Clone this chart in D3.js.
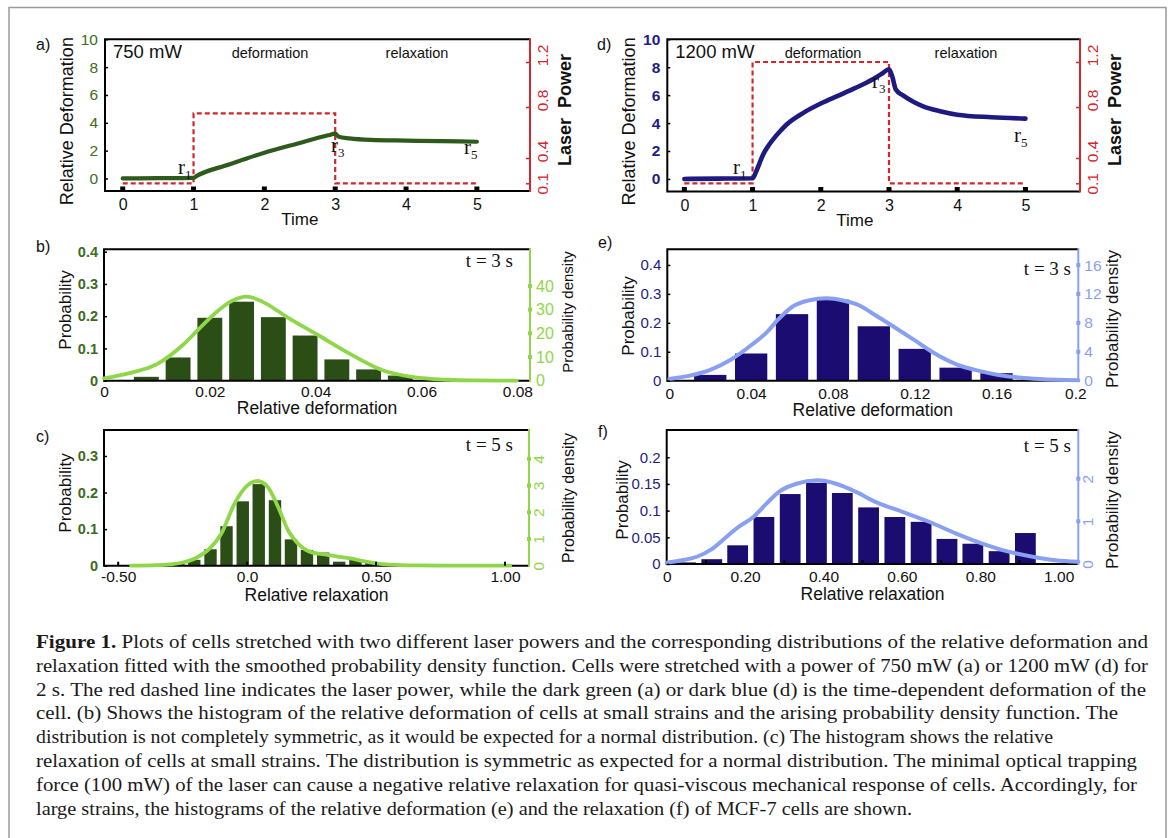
<!DOCTYPE html>
<html><head><meta charset="utf-8">
<script src="https://cdn.jsdelivr.net/npm/d3@7"></script>
<style>
body{margin:0;background:#fff;}
svg{display:block;}
text{font-family:"Liberation Sans",Arial,Helvetica,sans-serif;}
</style></head><body>
<svg id="fig" width="1171" height="838"></svg>
<script>
// ---------------- DATA ----------------
const timeTicks = [0,1,2,3,4,5];
const deformTicks = [0,2,4,6,8,10];
const powerTicks = [0.1,0.4,0.8,1.2];
const laserTime = [0,1,1,3,3,5];
const laserPowerA = [0.1,0.1,0.75,0.75,0.1,0.1];
const laserPowerD = [0.1,0.1,1.2,1.2,0.1,0.1];
const defTimeA = [0,0.5,1,1.05,1.5,2,2.5,2.9,3,3.05,3.2,3.5,4,4.5,5];
const defValA  = [0,0.02,0.05,0.2,1,1.85,2.55,3.1,3.22,3.0,2.88,2.77,2.72,2.68,2.64];
const defTimeD = [0,0.5,1,1.05,1.1,1.15,1.25,1.4,1.5,1.75,2,2.25,2.5,2.75,2.9,3,3.05,3.1,3.2,3.35,3.5,3.75,4,4.5,5];
const defValD  = [0,0.02,0.05,0.5,1.1,1.7,2.5,3.4,3.9,4.75,5.4,5.95,6.5,7.1,7.55,7.85,7.3,6.4,6.0,5.55,5.2,4.85,4.6,4.42,4.32];

// (b) small strains, t = 3 s
const binCentersB = [0.008,0.014,0.020,0.026,0.032,0.038,0.044,0.050,0.056];
const probB = [0.012,0.072,0.195,0.245,0.197,0.14,0.066,0.035,0.016];
const pdfXB = [0,0.005,0.01,0.015,0.018,0.021,0.024,0.027,0.03,0.0345,0.0405,0.0465,0.0525,0.0585,0.065,0.07,0.078];
const pdfYB = [1,3.3,7,15.3,22,28.5,33.5,35.5,33.3,27,19.2,11.3,4.5,1.5,0.4,0.1,0];
const xTicksB = [0,0.02,0.04,0.06,0.08];
const xLabelsB = ["0","0.02","0.04","0.06","0.08"];
const yTicksB = [0,0.1,0.2,0.3,0.4];
const yLabelsB = ["0","0.1","0.2","0.3","0.4"];
const y2TicksB = [0,10,20,30,40];

// (c) small strains, t = 5 s
const binCentersC = [-0.267,-0.205,-0.142,-0.08,-0.017,0.045,0.108,0.17,0.232,0.295,0.357,0.42,0.482,0.545];
const probC = [0.005,0.016,0.045,0.108,0.176,0.223,0.179,0.072,0.043,0.036,0.011,0.016,0.008,0.003];
const pdfXC = [-0.45,-0.35,-0.3,-0.25,-0.2,-0.15,-0.1,-0.05,0,0.04,0.08,0.12,0.16,0.2,0.25,0.3,0.35,0.4,0.45,0.5,0.55,0.65,0.8,1.02];
const pdfYC = [0,0.02,0.05,0.12,0.28,0.6,1.2,2.3,3.0,3.17,2.95,2.2,1.3,0.8,0.5,0.42,0.34,0.27,0.17,0.09,0.04,0.01,0,0];
const xTicksC = [-0.5,0,0.5,1.0];
const xLabelsC = ["-0.50","0.0","0.50","1.00"];
const yTicksC = [0,0.1,0.2,0.3];
const yLabelsC = ["0","0.1","0.2","0.3"];
const y2TicksC = [0,1,2,3,4];

// (e) large strains, t = 3 s
const binCentersE = [0.02,0.04,0.06,0.08,0.10,0.12,0.14,0.16,0.18];
const probE = [0.02,0.094,0.23,0.28,0.188,0.11,0.045,0.026,0.006];
const pdfXE = [0,0.01,0.02,0.03,0.04,0.048,0.053,0.06,0.068,0.077,0.085,0.093,0.1,0.109,0.121,0.129,0.141,0.151,0.161,0.171,0.181,0.2];
const pdfYE = [0.25,0.7,1.5,2.9,4.9,6.8,8.4,10.2,11.1,11.4,11.1,10.4,9.2,7.6,5.4,3.9,2.2,1.4,0.8,0.45,0.23,0.05];
const xTicksE = [0,0.04,0.08,0.12,0.16,0.2];
const xLabelsE = ["0","0.04","0.08","0.12","0.16","0.2"];
const yTicksE = [0,0.1,0.2,0.3,0.4];
const yLabelsE = ["0","0.1","0.2","0.3","0.4"];
const y2TicksE = [0,4,8,12,16];

// (f) large strains, t = 5 s
const binCentersF = [0.048,0.115,0.181,0.248,0.315,0.382,0.448,0.515,0.582,0.649,0.715,0.781,0.848,0.915];
const probF = [0.003,0.009,0.035,0.088,0.131,0.152,0.133,0.106,0.088,0.079,0.047,0.038,0.024,0.058];
const pdfXF = [0,0.035,0.077,0.115,0.153,0.185,0.221,0.255,0.288,0.331,0.385,0.432,0.483,0.534,0.602,0.669,0.737,0.805,0.872,0.94,0.991,1.05];
const pdfYF = [0.03,0.08,0.17,0.35,0.64,0.88,1.1,1.42,1.7,1.88,1.96,1.88,1.69,1.45,1.22,0.99,0.72,0.48,0.29,0.16,0.09,0.05];
const xTicksF = [0,0.2,0.4,0.6,0.8,1.0];
const xLabelsF = ["0","0.20","0.40","0.60","0.80","1.00"];
const xMinorF = [0.1,0.3,0.5,0.7,0.9];
const yTicksF = [0,0.05,0.1,0.15,0.2];
const yLabelsF = ["0","0.05","0.1","0.15","0.2"];
const y2TicksF = [0,1,2];

const captionLines = [
  " Plots of cells stretched with two different laser powers and the corresponding distributions of the relative deformation and",
  "relaxation fitted with the smoothed probability density function. Cells were stretched with a power of 750 mW (a) or 1200 mW (d) for",
  "2 s. The red dashed line indicates the laser power, while the dark green (a) or dark blue (d) is the time-dependent deformation of the",
  "cell. (b) Shows the histogram of the relative deformation of cells at small strains and the arising probability density function. The",
  "distribution is not completely symmetric, as it would be expected for a normal distribution. (c) The histogram shows the relative",
  "relaxation of cells at small strains. The distribution is symmetric as expected for a normal distribution. The minimal optical trapping",
  "force (100 mW) of the laser can cause a negative relative relaxation for quasi-viscous mechanical response of cells. Accordingly, for",
  "large strains, the histograms of the relative deformation (e) and the relaxation (f) of MCF-7 cells are shown."
];
const captionEnds = [1148,1148,1146,1118,1053,1137,1137,912];

// ---------------- STYLE ----------------
const SERIF = '"Liberation Serif","Times New Roman",serif';
const SANS = '"Liberation Sans",Arial,sans-serif';
const C = {
  red:"#d0282c", greenLine:"#2e5a1c", greenBar:"#2b4e17", greenText:"#3b6c1e",
  lightGreen:"#8fd64a", navyBar:"#1b0c72", navyLine:"#1e1b80", navyText:"#231c86",
  lightBlue:"#899ff0"
};

const svg = d3.select("#fig");
svg.append("rect").attr("x",9).attr("y",7.5).attr("width",1157).attr("height",860)
  .attr("fill","none").attr("stroke","#9a9a9a").attr("stroke-width",1.5);

function panelLabel(t,x,y){
  svg.append("text").attr("x",x).attr("y",y).attr("font-size",16).attr("fill","#111").text(t);
}
function rotLabel(g,t,x,y,fs,opts={}){
  g.append("text").attr("transform",`translate(${x},${y}) rotate(-90)`)
    .attr("text-anchor","middle").attr("font-size",fs)
    .attr("font-weight",opts.bold?"bold":"normal")
    .attr("fill",opts.fill||"#111").style("white-space","pre").text(t);
}
function frame(g,L,R,T,B,rightColor){
  g.append("path").attr("d",`M${R},${T}H${L}V${B}H${R}`).attr("fill","none")
    .attr("stroke","#000").attr("stroke-width",2);
  g.append("line").attr("x1",R).attr("x2",R).attr("y1",T-1).attr("y2",B+1)
    .attr("stroke",rightColor).attr("stroke-width",2);
}

// ---------------- TIME PANELS ----------------
function timePanel(cfg){
  const g = svg.append("g");
  const x = d3.scaleLinear().domain(cfg.xDomain).range([cfg.L,cfg.R]);
  const y = d3.scaleLinear().domain([-0.9,10]).range([cfg.B,cfg.T]);
  const yp = d3.scaleLinear().domain(powerTicks).range(cfg.powerRange);

  frame(g,cfg.L,cfg.R,cfg.T,cfg.B,C.red);

  const la = g.append("g").attr("transform",`translate(${cfg.L},0)`)
    .call(d3.axisLeft(y).tickValues(deformTicks).tickSizeInner(-3).tickSizeOuter(0).tickPadding(7));
  la.select(".domain").remove();
  la.selectAll("line").attr("stroke","#000").attr("stroke-width",1.5);
  la.selectAll("text").attr("fill",cfg.leftColor).attr("font-size",15.5)
    .attr("font-weight",cfg.leftBold?"bold":"normal").style("font-family",SANS);

  const ba = g.append("g").attr("transform",`translate(0,${cfg.B})`)
    .call(d3.axisBottom(x).tickValues(timeTicks).tickSize(0).tickPadding(8).tickFormat(d3.format("d")));
  ba.select(".domain").remove();
  ba.selectAll("text").attr("fill","#111").attr("font-size",16).style("font-family",SANS);
  g.selectAll("rect.tsq").data(timeTicks).join("rect").attr("class","tsq")
    .attr("x",d=>x(d)-2.5).attr("y",cfg.B-4.5).attr("width",5).attr("height",4.5).attr("fill","#000");

  const ra = g.append("g").attr("transform",`translate(${cfg.R},0)`)
    .call(d3.axisRight(yp).tickValues(powerTicks).tickSizeInner(-4).tickSizeOuter(0).tickFormat(d3.format(".1f")));
  ra.select(".domain").remove();
  ra.selectAll("line").attr("stroke",C.red).attr("stroke-width",1.5);
  ra.selectAll("text").attr("x",0).attr("dy",null).attr("fill",C.red).attr("font-size",15.5)
    .attr("text-anchor","middle").attr("transform",d=>`translate(18,${d===0.1?0:-7}) rotate(-90)`)
    .style("font-family",SANS);

  g.append("path").datum(laserTime.map((t,i)=>[t,cfg.power[i]]))
    .attr("d",d3.line().x(d=>x(d[0])).y(d=>yp(d[1])))
    .attr("fill","none").attr("stroke",C.red).attr("stroke-width",2.2).attr("stroke-dasharray","5,3");

  g.append("path").datum(cfg.time.map((t,i)=>[t,cfg.val[i]]))
    .attr("d",d3.line().x(d=>x(d[0])).y(d=>y(d[1])).curve(d3.curveMonotoneX))
    .attr("fill","none").attr("stroke",cfg.lineColor).attr("stroke-width",cfg.lineW)
    .attr("stroke-linecap","round").attr("stroke-linejoin","round");

  g.append("text").attr("x",cfg.L+8).attr("y",cfg.T+19).attr("font-size",18.5).attr("fill","#111").text(cfg.power_label);
  g.append("text").attr("x",cfg.defX).attr("y",cfg.T+19).attr("font-size",14.5).attr("text-anchor","middle").attr("fill","#111").text("deformation");
  g.append("text").attr("x",cfg.relX).attr("y",cfg.T+19).attr("font-size",14.5).attr("text-anchor","middle").attr("fill","#111").text("relaxation");
  g.append("text").attr("x",(x(2.5))).attr("y",cfg.B+34).attr("font-size",17).attr("text-anchor","middle").attr("fill","#111").text("Time");
  rotLabel(g,"Relative Deformation",cfg.L-32,(cfg.T+cfg.B)/2+6,18);
  rotLabel(g,"Laser  Power",cfg.R+41,110,18,{bold:true});

  cfg.rs.forEach(r=>{
    const t = g.append("text").attr("x",r[1]).attr("y",r[2]).attr("font-size",21)
      .style("font-family",SERIF).attr("fill","#111");
    t.append("tspan").text("r");
    t.append("tspan").attr("font-size",13).attr("dy",5).text(r[0]);
  });
}

timePanel({L:105,R:530,T:39.3,B:191,xDomain:[-0.25,5.75],powerRange:[183.3,158,107,62],
  power:laserPowerA,time:defTimeA,val:defValA,lineColor:C.greenLine,lineW:4.2,leftColor:C.greenText,
  power_label:"750 mW",defX:270,relX:417,
  rs:[["1",178,174],["3",331,152],["5",464,154]]});
timePanel({L:667.3,R:1080,T:39.3,B:191.5,xDomain:[-0.25,5.8],powerRange:[183.3,158,107,62],
  power:laserPowerD,time:defTimeD,val:defValD,lineColor:C.navyLine,lineW:4.6,leftColor:C.navyText,leftBold:true,
  power_label:"1200 mW",defX:823,relX:966,
  rs:[["1",733,174],["3",872,88],["5",1014,142]]});

// ---------------- HISTOGRAM PANELS ----------------
function histPanel(cfg){
  const g = svg.append("g");
  const x = d3.scaleLinear().domain(cfg.xDomain).range([cfg.L,cfg.R]);
  const y = d3.scaleLinear().domain(cfg.yDomain).range([cfg.B,cfg.T]);
  const y2 = d3.scaleLinear().domain(cfg.y2Domain).range([cfg.B,cfg.T]);

  g.selectAll("rect.bar").data(cfg.centers.map((c,i)=>({c,p:cfg.probs[i]}))).join("rect")
    .attr("class","bar")
    .attr("x",d=>x(d.c-cfg.barW/2)).attr("width",d=>x(d.c+cfg.barW/2)-x(d.c-cfg.barW/2))
    .attr("y",d=>y(d.p)).attr("height",d=>y(0)-y(d.p)).attr("fill",cfg.barColor);

  frame(g,cfg.L,cfg.R,cfg.T,cfg.B,cfg.curveColor);

  if(cfg.xMinor){
    g.selectAll("line.mt").data(cfg.xMinor).join("line").attr("class","mt")
      .attr("x1",d=>x(d)).attr("x2",d=>x(d)).attr("y1",cfg.B).attr("y2",cfg.B-4)
      .attr("stroke","#000").attr("stroke-width",2);
  }

  g.append("path").datum(cfg.pdfX.map((v,i)=>[v,cfg.pdfY[i]]))
    .attr("d",d3.line().x(d=>x(d[0])).y(d=>y2(d[1])).curve(d3.curveMonotoneX))
    .attr("fill","none").attr("stroke",cfg.curveColor).attr("stroke-width",cfg.curveW)
    .attr("stroke-linecap","round");

  const la = g.append("g").attr("transform",`translate(${cfg.L},0)`)
    .call(d3.axisLeft(y).tickValues(cfg.yTicks).tickSizeInner(-3).tickSizeOuter(0).tickPadding(6)
      .tickFormat((d,i)=>cfg.yLabels[i]));
  la.select(".domain").remove();
  la.selectAll("line").attr("stroke","#000").attr("stroke-width",1.5);
  la.selectAll("text").attr("fill",cfg.leftColor).attr("font-size",cfg.leftFs)
    .attr("font-weight",cfg.leftBold?"bold":"normal").style("font-family",SANS);

  const ba = g.append("g").attr("transform",`translate(0,${cfg.B})`)
    .call(d3.axisBottom(x).tickValues(cfg.xTicks).tickSize(0).tickPadding(cfg.xPad)
      .tickFormat((d,i)=>cfg.xLabels[i]));
  ba.select(".domain").remove();
  const nX = cfg.xTicks.length;
  ba.selectAll("text").attr("fill","#111").attr("font-size",15.5).style("font-family",SANS)
    .attr("dx",(d,i)=>i===nX-1?(cfg.lastDx||0):0);
  if(cfg.xTickMarks){
    g.selectAll("line.xt").data(cfg.xTicks).join("line").attr("class","xt")
      .attr("x1",d=>x(d)).attr("x2",d=>x(d)).attr("y1",cfg.B).attr("y2",cfg.B-4)
      .attr("stroke","#000").attr("stroke-width",2);
  }

  const ra = g.append("g").attr("transform",`translate(${cfg.R},0)`)
    .call(d3.axisRight(y2).tickValues(cfg.y2Ticks).tickSize(0).tickPadding(6).tickFormat(d3.format("d")));
  ra.select(".domain").remove();
  ra.selectAll("text").attr("fill",cfg.curveColor).attr("font-size",cfg.y2Fs)
    .style("font-family",SANS);
  if(cfg.rotY2){
    ra.selectAll("text").attr("x",0).attr("dy",null).attr("text-anchor","middle")
      .attr("transform","translate(15,0) rotate(-90)");
  }
  g.selectAll("rect.sq").data(cfg.y2Ticks.filter(d=>d>0)).join("rect").attr("class","sq")
    .attr("x",cfg.R-2).attr("y",d=>y2(d)-2).attr("width",4).attr("height",4).attr("fill",cfg.curveColor);

  rotLabel(g,"Probability",cfg.probX,cfg.probY,17);
  rotLabel(g,"Probability density",cfg.densX,cfg.densY,cfg.densFs);
  g.append("text").attr("x",(cfg.L+cfg.R)/2).attr("y",cfg.titleY).attr("text-anchor","middle")
    .attr("font-size",17.5).attr("fill","#111").text(cfg.xTitle);
  g.append("text").attr("x",cfg.tX).attr("y",cfg.T+cfg.tY).attr("text-anchor","end")
    .attr("font-size",19).style("font-family",SERIF).attr("fill","#111").text(cfg.tLabel);
}

histPanel({L:104,R:530,T:249.3,B:380.7,xDomain:[0,0.0805],yDomain:[0,0.4074],y2Domain:[0,55.5],
  centers:binCentersB,probs:probB,barW:0.0047,pdfX:pdfXB,pdfY:pdfYB,
  barColor:C.greenBar,curveColor:C.lightGreen,curveW:3.8,leftColor:C.greenText,leftBold:true,leftFs:14.5,y2Fs:16,
  yTicks:yTicksB,yLabels:yLabelsB,y2Ticks:y2TicksB,xTicks:xTicksB,xLabels:xLabelsB,xPad:5,lastDx:-10,
  probX:71,probY:310,densX:573,densY:312,densFs:15,titleY:414,xTitle:"Relative deformation",tLabel:"t = 3 s",tX:513,tY:18});

histPanel({L:104,R:529,T:430,B:565.7,xDomain:[-0.555,1.093],yDomain:[0,0.371],y2Domain:[0,5.08],
  centers:binCentersC,probs:probC,barW:0.048,pdfX:pdfXC,pdfY:pdfYC,
  barColor:C.greenBar,curveColor:C.lightGreen,curveW:3.8,leftColor:C.greenText,leftBold:true,leftFs:14.5,y2Fs:15.5,
  yTicks:yTicksC,yLabels:yLabelsC,y2Ticks:y2TicksC,xTicks:xTicksC,xLabels:xLabelsC,xPad:5,xTickMarks:true,rotY2:true,
  probX:71,probY:493,densX:574,densY:498,densFs:16,titleY:601,xTitle:"Relative relaxation",tLabel:"t = 5 s",tX:513,tY:21});

histPanel({L:667.3,R:1078.3,T:249.3,B:380.7,xDomain:[-0.001,0.2],yDomain:[0,0.454],y2Domain:[0,18.18],
  centers:binCentersE,probs:probE,barW:0.0158,pdfX:pdfXE,pdfY:pdfYE,
  barColor:C.navyBar,curveColor:C.lightBlue,curveW:4,leftColor:C.navyText,leftFs:15,y2Fs:15.5,
  yTicks:yTicksE,yLabels:yLabelsE,y2Ticks:y2TicksE,xTicks:xTicksE,xLabels:xLabelsE,xPad:7,lastDx:-3,
  probX:634,probY:316,densX:1118,densY:319,densFs:17,titleY:416,xTitle:"Relative deformation",tLabel:"t = 3 s",tX:1071,tY:26});

histPanel({L:666.7,R:1078.3,T:430,B:564,xDomain:[0,1.05],yDomain:[0,0.251],y2Domain:[0,3.14],
  centers:binCentersF,probs:probF,barW:0.053,pdfX:pdfXF,pdfY:pdfYF,
  barColor:C.navyBar,curveColor:C.lightBlue,curveW:4,leftColor:C.navyText,leftFs:15,y2Fs:15.5,
  yTicks:yTicksF,yLabels:yLabelsF,y2Ticks:y2TicksF,xTicks:xTicksF,xLabels:xLabelsF,xPad:7,xMinor:xMinorF,rotY2:true,
  probX:628,probY:500,densX:1118,densY:500,densFs:17,titleY:600,xTitle:"Relative relaxation",tLabel:"t = 5 s",tX:1071,tY:22});

panelLabel("a)",36,50); panelLabel("b)",36,252); panelLabel("c)",36,442);
panelLabel("d)",597,50); panelLabel("e)",598,248); panelLabel("f)",598,437);

// ---------------- CAPTION ----------------
const cap = svg.append("g");
captionLines.forEach((line,i)=>{
  const t = cap.append("text").attr("x",36).attr("y",648+i*23.8).attr("font-size",19)
    .attr("fill","#1a1a1a").style("font-family",SERIF)
    .attr("textLength",captionEnds[i]-36).attr("lengthAdjust","spacingAndGlyphs")
    .style("white-space","pre");
  if(i===0){
    t.append("tspan").attr("font-weight","bold").text("Figure 1.");
    t.append("tspan").text(line);
  } else {
    t.text(line);
  }
});
</script>
</body></html>
